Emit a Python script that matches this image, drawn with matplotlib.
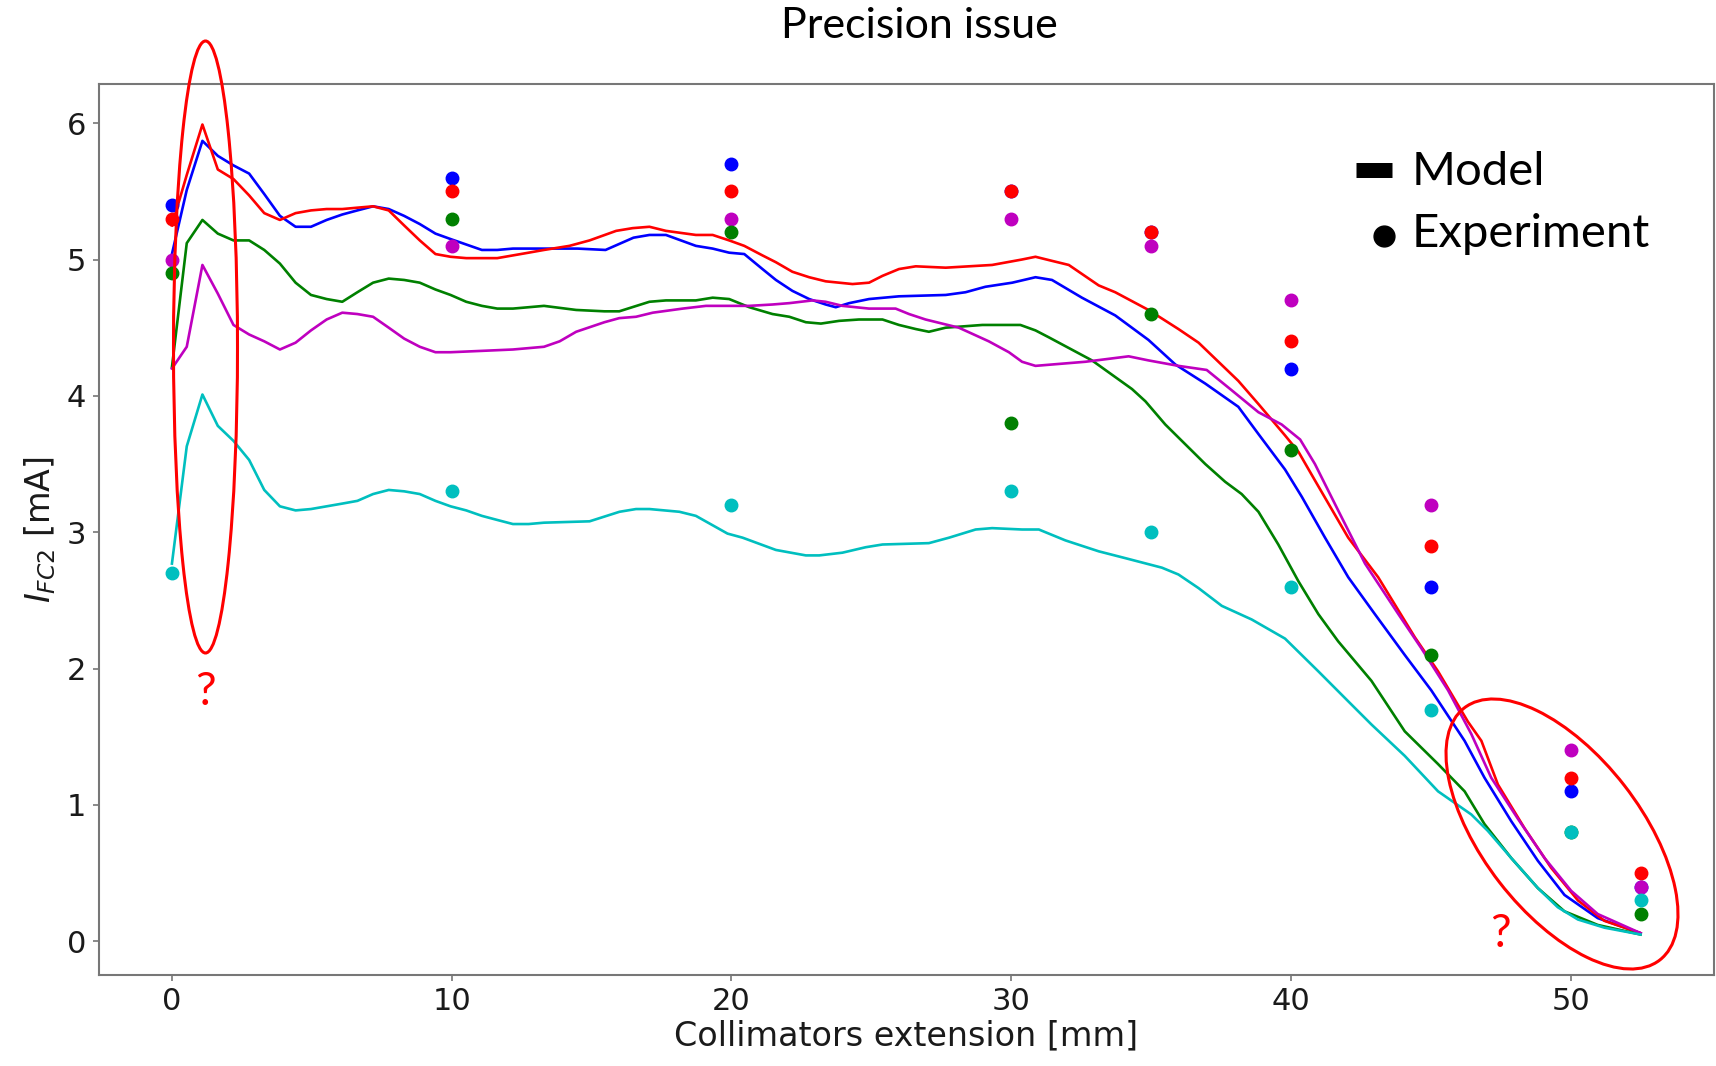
import matplotlib
matplotlib.use("Agg")
import matplotlib.pyplot as plt
from matplotlib.patches import Ellipse
from matplotlib.lines import Line2D
from matplotlib.transforms import IdentityTransform

# model curves (one x list per curve)
blue_x = [0, 0.53, 1.09, 1.64, 2.2, 2.76, 3.3, 3.86, 4.42, 4.97, 5.53, 6.09, 6.63, 7.19, 7.75,
          8.3, 8.86, 9.42, 9.96, 10.52, 11.08, 11.63, 12.19, 13.3, 14.5, 15.5, 16.5, 17.07, 17.66,
          18.73, 19.33, 19.92, 20.46, 21.11, 21.59, 22.18, 22.78, 23.37, 23.73, 24.21, 24.92,
          25.99, 27.66, 28.37, 29.08, 30.04, 30.87, 31.46, 32.53, 33.72, 34.91, 35.87, 36.94,
          38.12, 38.84, 39.79, 40.39, 41.22, 42.05, 43.0, 44.07, 45.02, 46.21, 46.92, 47.88,
          48.83, 49.78, 50.97, 52.5]
blue_y = [5.04, 5.51, 5.87, 5.76, 5.69, 5.63, 5.48, 5.32, 5.24, 5.24, 5.29, 5.33, 5.36, 5.39, 5.37,
          5.32, 5.26, 5.19, 5.15, 5.11, 5.07, 5.07, 5.08, 5.08, 5.08, 5.07, 5.16, 5.18, 5.18,
          5.10, 5.08, 5.05, 5.04, 4.93, 4.85, 4.77, 4.71, 4.67, 4.65, 4.68, 4.71,
          4.73, 4.74, 4.76, 4.80, 4.83, 4.87, 4.85, 4.72, 4.59, 4.41, 4.23, 4.09,
          3.92, 3.72, 3.46, 3.26, 2.96, 2.67, 2.40, 2.10, 1.84, 1.47, 1.20, 0.88,
          0.59, 0.34, 0.17, 0.06]

red_x = [0, 0.53, 1.09, 1.64, 2.2, 2.76, 3.3, 3.86, 4.42, 4.97, 5.53, 6.09, 6.63, 7.19, 7.75,
         8.3, 8.86, 9.42, 9.96, 10.52, 11.08, 11.63, 12.19, 12.75, 13.3, 14.21, 14.93, 15.88,
         16.47, 17.07, 17.66, 18.73, 19.33, 19.92, 20.46, 21.11, 21.59, 22.18, 22.78, 23.37,
         24.33, 24.92, 25.40, 25.99, 26.59, 27.66, 29.32, 30.39, 30.87, 31.46, 32.06, 33.13,
         33.72, 34.91, 35.98, 36.7, 38.12, 38.84, 39.79, 40.27, 40.86, 42.05, 43.12, 44.43,
         45.26, 46.33, 46.81, 47.4, 48.35, 49.3, 50.26, 51.21, 52.5]
red_y = [5.25, 5.62, 5.99, 5.66, 5.59, 5.47, 5.34, 5.29, 5.34, 5.36, 5.37, 5.37, 5.38, 5.39, 5.36,
         5.25, 5.14, 5.04, 5.02, 5.01, 5.01, 5.01, 5.03, 5.05, 5.07, 5.10, 5.14, 5.21,
         5.23, 5.24, 5.21, 5.18, 5.18, 5.14, 5.10, 5.03, 4.98, 4.91, 4.87, 4.84,
         4.82, 4.83, 4.88, 4.93, 4.95, 4.94, 4.96, 5.00, 5.02, 4.99, 4.96, 4.81,
         4.76, 4.63, 4.49, 4.39, 4.11, 3.94, 3.71, 3.59, 3.38, 2.96, 2.67, 2.23,
         1.98, 1.61, 1.47, 1.15, 0.83, 0.54, 0.30, 0.15, 0.06]

green_x = [0, 0.53, 1.09, 1.64, 2.2, 2.76, 3.3, 3.86, 4.42, 4.97, 5.53, 6.09, 6.63, 7.19, 7.75,
           8.3, 8.86, 9.42, 9.96, 10.52, 11.08, 11.63, 12.19, 12.75, 13.3, 14.45, 15.46, 15.99,
           17.07, 17.66, 18.73, 19.33, 19.92, 20.64, 21.47, 22.07, 22.66, 23.2, 23.85, 24.56,
           25.4, 25.99, 26.59, 27.06, 27.66, 28.97, 30.33, 30.87, 31.34, 32.89, 34.32, 34.8,
           35.51, 36.94, 37.65, 38.24, 38.84, 39.55, 40.27, 40.98, 41.69, 42.88, 44.07, 45.26,
           46.21, 46.92, 47.88, 48.83, 49.78, 50.97, 52.5]
green_y = [4.21, 5.12, 5.29, 5.19, 5.14, 5.14, 5.07, 4.97, 4.83, 4.74, 4.71, 4.69, 4.76, 4.83, 4.86,
           4.85, 4.83, 4.78, 4.74, 4.69, 4.66, 4.64, 4.64, 4.65, 4.66, 4.63, 4.62, 4.62,
           4.69, 4.70, 4.70, 4.72, 4.71, 4.65, 4.60, 4.58, 4.54, 4.53, 4.55, 4.56,
           4.56, 4.52, 4.49, 4.47, 4.50, 4.52, 4.52, 4.48, 4.43, 4.26, 4.05, 3.96,
           3.79, 3.50, 3.37, 3.28, 3.15, 2.91, 2.64, 2.40, 2.20, 1.91, 1.54, 1.30,
           1.10, 0.86, 0.61, 0.39, 0.22, 0.12, 0.05]

magenta_x = [0, 0.53, 1.09, 1.64, 2.2, 2.76, 3.3, 3.86, 4.42, 4.97, 5.53, 6.09, 6.63, 7.19, 7.75,
             8.3, 8.86, 9.42, 9.96, 11.08, 12.19, 13.3, 13.86, 14.45, 15.46, 15.99, 16.59, 17.19,
             18.26, 19.09, 20.64, 21.47, 22.07, 22.9, 23.37, 23.97, 24.92, 25.87, 26.35, 26.94,
             28.13, 29.2, 29.92, 30.39, 30.87, 31.46, 32.65, 34.2, 34.91, 35.98, 36.99, 37.89,
             38.84, 39.67, 40.33, 40.86, 41.69, 42.65, 43.84, 44.66, 45.62, 46.45, 47.16, 48.11,
             49.07, 50.02, 50.97, 52.5]
magenta_y = [4.20, 4.36, 4.96, 4.75, 4.52, 4.45, 4.40, 4.34, 4.39, 4.48, 4.56, 4.61, 4.60, 4.58, 4.50,
             4.42, 4.36, 4.32, 4.32, 4.33, 4.34, 4.36, 4.40, 4.47, 4.54, 4.57, 4.58, 4.61,
             4.64, 4.66, 4.66, 4.67, 4.68, 4.70, 4.69, 4.66, 4.64, 4.64, 4.60, 4.56,
             4.50, 4.40, 4.32, 4.25, 4.22, 4.23, 4.25, 4.29, 4.26, 4.22, 4.19, 4.04,
             3.88, 3.79, 3.68, 3.50, 3.16, 2.77, 2.40, 2.15, 1.84, 1.52, 1.20, 0.90,
             0.61, 0.37, 0.20, 0.06]

cyan_x = [0, 0.53, 1.09, 1.64, 2.2, 2.76, 3.3, 3.86, 4.42, 4.97, 5.53, 6.09, 6.63, 7.19, 7.75,
          8.3, 8.86, 9.42, 9.96, 10.52, 11.08, 11.63, 12.19, 12.75, 13.3, 14.93, 16.0, 16.59,
          17.07, 18.14, 18.73, 19.86, 20.4, 21.59, 22.66, 23.14, 23.97, 24.8, 25.4, 27.06,
          27.78, 28.73, 29.32, 30.39, 30.99, 31.94, 33.13, 34.08, 35.39, 35.98, 36.7, 37.53,
          38.6, 39.79, 40.98, 42.05, 42.88, 44.07, 45.26, 46.45, 47.04, 47.88, 48.83, 49.54,
          50.26, 51.21, 52.5]
cyan_y = [2.77, 3.63, 4.01, 3.78, 3.67, 3.53, 3.31, 3.19, 3.16, 3.17, 3.19, 3.21, 3.23, 3.28, 3.31,
          3.30, 3.28, 3.23, 3.19, 3.16, 3.12, 3.09, 3.06, 3.06, 3.07, 3.08, 3.15, 3.17,
          3.17, 3.15, 3.12, 2.99, 2.96, 2.87, 2.83, 2.83, 2.85, 2.89, 2.91, 2.92,
          2.96, 3.02, 3.03, 3.02, 3.02, 2.94, 2.86, 2.81, 2.74, 2.69, 2.59, 2.46,
          2.36, 2.22, 1.98, 1.76, 1.59, 1.36, 1.10, 0.93, 0.81, 0.61, 0.39, 0.25,
          0.16, 0.10, 0.05]

# measured points
exp_x = [0, 10, 20, 30, 35, 40, 45, 50, 52.5]
exp_blue = [5.4, 5.6, 5.7, 5.5, 5.2, 4.2, 2.6, 1.1, 0.4]
exp_red = [5.3, 5.5, 5.5, 5.5, 5.2, 4.4, 2.9, 1.2, 0.5]
exp_magenta = [5.0, 5.1, 5.3, 5.3, 5.1, 4.7, 3.2, 1.4, 0.4]
exp_green = [4.9, 5.3, 5.2, 3.8, 4.6, 3.6, 2.1, 0.8, 0.2]
exp_cyan = [2.7, 3.3, 3.2, 3.3, 3.0, 2.6, 1.7, 0.8, 0.3]

W, H = 1716, 1066
fig = plt.figure(figsize=(W / 100, H / 100), dpi=100)
ax = fig.add_axes([98.5 / W, 1 - 975 / H, (1714 - 98.5) / W, (975 - 84) / H])

for x, y, c in [(blue_x, blue_y, 'b'), (red_x, red_y, 'r'), (green_x, green_y, 'g'),
                (magenta_x, magenta_y, 'm'), (cyan_x, cyan_y, 'c')]:
    ax.plot(x, y, color=c, lw=1.9)

for y, c in [(exp_blue, 'b'), (exp_red, 'r'), (exp_magenta, 'm'),
             (exp_green, 'g'), (exp_cyan, 'c')]:
    ax.plot(exp_x, y, 'o', color=c, ms=9)

ax.set_xticks(range(0, 51, 10))
ax.set_yticks(range(0, 7))
ax.tick_params(labelsize=22, color='#777777', labelcolor='#1a1a1a', length=4, width=1.2, pad=5)
for s in ax.spines.values():
    s.set_color('#777777')
    s.set_linewidth(1.5)
ax.set_xlabel('Collimators extension [mm]', fontsize=24, color='#1a1a1a', labelpad=2)
ax.set_ylabel(r'$I_{FC2}$ [mA]', fontsize=24, color='#1a1a1a', labelpad=6)


# overlay added on top of the chart (title, legend, red marks)
def fpos(x, y):
    return x / W, 1 - y / H


fig.text(*fpos(919, 26), 'Precision issue', ha='center', va='center', fontsize=31, family='Lato')
fig.text(*fpos(1412, 185), 'Model', va='baseline', fontsize=34, family='Lato')
fig.text(*fpos(1412, 247), 'Experiment', va='baseline', fontsize=34, family='Lato')
x0, y0 = fpos(1356, 170)
x1, _ = fpos(1392, 170)
fig.add_artist(Line2D([x0, x1], [y0, y0], color='k', lw=10.8, solid_capstyle='butt',
                      transform=fig.transFigure))
fig.add_artist(Line2D([fpos(1384, 236)[0]], [fpos(1384, 236)[1]], marker='o', ms=15,
                      color='k', transform=fig.transFigure))

fig.add_artist(Ellipse((205.5, H - 347), 64, 612, angle=0, fill=False, ec='red', lw=2.2,
                       transform=IdentityTransform()))
fig.add_artist(Ellipse((1562, H - 834), 319, 158, angle=-52.2, fill=False, ec='red', lw=2.2,
                       transform=IdentityTransform()))
fig.text(*fpos(205, 692), '?', color='red', ha='center', va='center', fontsize=33, family='Lato')
fig.text(*fpos(1500, 934), '?', color='red', ha='center', va='center', fontsize=33, family='Lato')

fig.savefig('out.png', dpi=100)
